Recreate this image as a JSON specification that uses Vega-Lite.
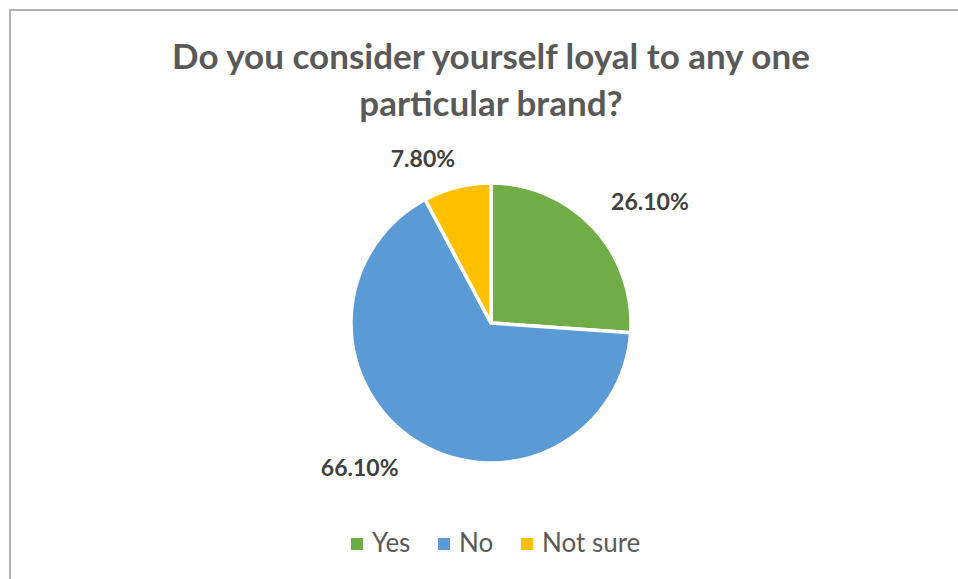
{
  "$schema": "https://vega.github.io/schema/vega-lite/v6.json",
  "autosize": {"type": "none"},
  "width": 962,
  "height": 626,
  "padding": {"left": 10, "top": 10, "right": -14, "bottom": -57},
  "background": "white",
  "view": {"stroke": "#b3b3b3", "strokeWidth": 2, "fill": "white"},
  "title": {
    "text": ["Do you consider yourself loyal to any one", "particular brand?"],
    "font": "Lato",
    "fontSize": 35,
    "fontWeight": "bold",
    "color": "#595959",
    "anchor": "middle",
    "offset": -113,
    "lineHeight": 47
  },
  "data": {
    "values": [
      {"answer": "Yes", "value": 26.1, "label": "26.10%", "order": 1},
      {"answer": "No", "value": 66.1, "label": "66.10%", "order": 2},
      {"answer": "Not sure", "value": 7.8, "label": "7.80%", "order": 3}
    ]
  },
  "encoding": {
    "theta": {"field": "value", "type": "quantitative", "stack": true},
    "order": {"field": "order", "type": "quantitative"}
  },
  "layer": [
    {
      "mark": {"type": "arc", "outerRadius": 140, "stroke": "white", "strokeWidth": 3.5},
      "encoding": {
        "color": {
          "field": "answer",
          "type": "nominal",
          "scale": {"domain": ["Yes", "No", "Not sure"], "range": ["#70AD47", "#5B9BD5", "#FFC000"]},
          "legend": {
            "title": null,
            "orient": "none",
            "legendX": 334,
            "legendY": 521,
            "direction": "horizontal",
            "symbolType": "square",
            "symbolSize": 144,
            "symbolStrokeWidth": 0,
            "labelFontSize": 26,
            "labelColor": "#595959",
            "labelFont": "Lato",
            "labelOffset": 2,
            "columnPadding": 20,
            "padding": 0
          }
        }
      }
    },
    {
      "mark": {"type": "text", "radius": 190, "font": "Lato", "fontSize": 23, "fontWeight": "bold", "color": "#404040", "align": "center", "baseline": "middle", "dx": 20, "dy": 10},
      "encoding": {"text": {"condition": {"test": "datum.answer === 'Yes'", "field": "label"}, "value": ""}}
    },
    {
      "mark": {"type": "text", "radius": 190, "font": "Lato", "fontSize": 23, "fontWeight": "bold", "color": "#404040", "align": "center", "baseline": "middle", "dx": -28, "dy": -13},
      "encoding": {"text": {"condition": {"test": "datum.answer === 'No'", "field": "label"}, "value": ""}}
    },
    {
      "mark": {"type": "text", "radius": 190, "font": "Lato", "fontSize": 23, "fontWeight": "bold", "color": "#404040", "align": "center", "baseline": "middle", "dx": -22, "dy": 21},
      "encoding": {"text": {"condition": {"test": "datum.answer === 'Not sure'", "field": "label"}, "value": ""}}
    }
  ],
  "config": {"font": "Lato"}
}
